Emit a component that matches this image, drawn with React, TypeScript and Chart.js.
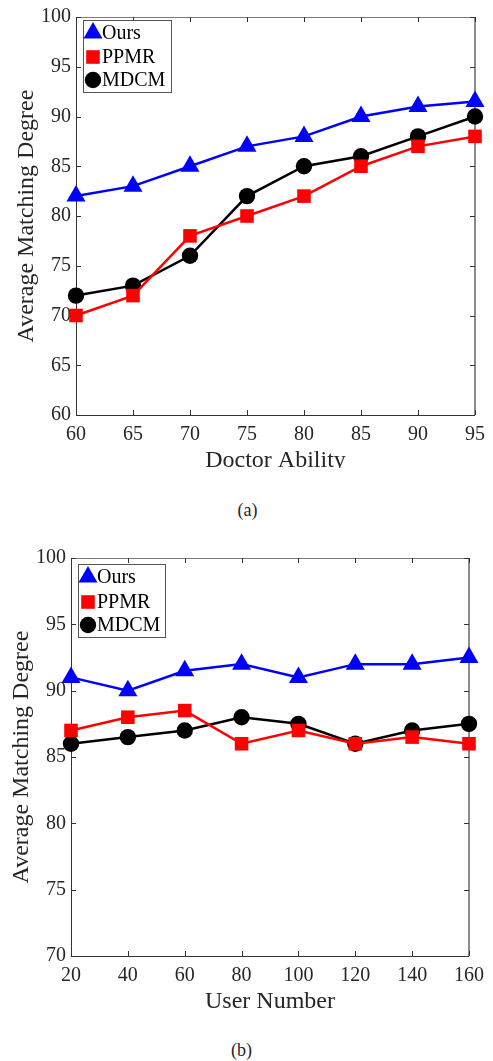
import React, { useEffect, useRef } from "react";
import { Chart, registerables } from "chart.js";

Chart.register(...registerables);

const seriesNames = ["Ours", "PPMR", "MDCM"];

const abilityX = [60, 65, 70, 75, 80, 85, 90, 95];
const abilityOurs = [82, 83, 85, 87, 88, 90, 91, 91.5];
const abilityPPMR = [70, 72, 78, 80, 82, 85, 87, 88];
const abilityMDCM = [72, 73, 76, 82, 85, 86, 88, 90];

const userX = [20, 40, 60, 80, 100, 120, 140, 160];
const userOurs = [91, 90, 91.5, 92, 91, 92, 92, 92.5];
const userPPMR = [87, 88, 88.5, 86, 87, 86, 86.5, 86];
const userMDCM = [86, 86.5, 87, 88, 87.5, 86, 87, 87.5];

const FONT = "'Liberation Serif', 'DejaVu Serif', serif";
const TEXT = "#262626";

type Cfg = {
  width: number;
  height: number;
  area: { left: number; right: number; top: number; bottom: number };
  xs: number[];
  series: number[][];
  xMin: number;
  xMax: number;
  xStep: number;
  yMin: number;
  yMax: number;
  yStep: number;
  xTitle: string;
  xTitleBaseline: number;
  yTitleBaseline: number;
  legend: { left: number; top: number; w: number; h: number; rows: number[]; mx: number; tx: number };
};

const styles = [
  { color: "#0000ff", pointStyle: "triangle", radius: 11 },
  { color: "#ff0000", pointStyle: "rect", radius: 9.6 },
  { color: "#000000", pointStyle: "circle", radius: 8.2 },
];

function drawMarker(ctx: CanvasRenderingContext2D, style: string, x: number, y: number, r: number, color: string) {
  ctx.save();
  ctx.fillStyle = color;
  ctx.beginPath();
  if (style === "triangle") {
    for (let i = 0; i < 3; i++) {
      const a = (i * 2 * Math.PI) / 3;
      const px = x + Math.sin(a) * r;
      const py = y - Math.cos(a) * r;
      if (i === 0) ctx.moveTo(px, py);
      else ctx.lineTo(px, py);
    }
    ctx.closePath();
  } else if (style === "rect") {
    const s = r * Math.SQRT1_2;
    ctx.rect(x - s, y - s, 2 * s, 2 * s);
  } else {
    ctx.arc(x, y, r, 0, Math.PI * 2);
  }
  ctx.fill();
  ctx.restore();
}

function LineChart({ cfg }: { cfg: Cfg }) {
  const ref = useRef<HTMLCanvasElement | null>(null);
  useEffect(() => {
    if (!ref.current) return;
    const a = cfg.area;
    const framePlugin = {
      id: "frame",
      beforeDatasetsDraw(chart: any) {
        const ctx = chart.ctx as CanvasRenderingContext2D;
        const { left, right, top, bottom } = chart.chartArea;
        const xs = chart.scales.x;
        const ys = chart.scales.y;
        ctx.save();
        ctx.strokeStyle = "#7a7a7a";
        ctx.lineWidth = 1;
        ctx.beginPath();
        ctx.moveTo(left, top + 0.5);
        ctx.lineTo(right, top + 0.5);
        ctx.stroke();
        ctx.strokeStyle = "#8c8c8c";
        ctx.lineWidth = 2;
        ctx.beginPath();
        ctx.moveTo(right, top);
        ctx.lineTo(right, bottom);
        ctx.stroke();
        ctx.strokeStyle = "#333333";
        ctx.lineWidth = 1;
        ctx.beginPath();
        ctx.moveTo(left + 0.5, top);
        ctx.lineTo(left + 0.5, bottom);
        ctx.moveTo(left, bottom + 0.5);
        ctx.lineTo(right, bottom + 0.5);
        ctx.stroke();
        ctx.strokeStyle = "#333333";
        ctx.beginPath();
        xs.ticks.forEach((t: any) => {
          const px = Math.round(xs.getPixelForValue(t.value)) + 0.5;
          ctx.moveTo(px, bottom);
          ctx.lineTo(px, bottom - 5);
          ctx.moveTo(px, top);
          ctx.lineTo(px, top + 5);
        });
        ys.ticks.forEach((t: any) => {
          const py = Math.round(ys.getPixelForValue(t.value)) + 0.5;
          ctx.moveTo(left, py);
          ctx.lineTo(left + 5, py);
          ctx.moveTo(right, py);
          ctx.lineTo(right - 5, py);
        });
        ctx.stroke();
        ctx.fillStyle = TEXT;
        ctx.font = `24px ${FONT}`;
        ctx.textAlign = "center";
        ctx.textBaseline = "alphabetic";
        ctx.fillText(cfg.xTitle, (left + right) / 2, cfg.xTitleBaseline);
        ctx.translate(cfg.yTitleBaseline, (top + bottom) / 2);
        ctx.rotate(-Math.PI / 2);
        ctx.fillText("Average Matching Degree", 0, 0);
        ctx.restore();
      },
      afterDraw(chart: any) {
        const ctx = chart.ctx as CanvasRenderingContext2D;
        const L = cfg.legend;
        ctx.save();
        ctx.fillStyle = "#ffffff";
        ctx.fillRect(L.left, L.top, L.w, L.h);
        ctx.strokeStyle = "#555555";
        ctx.lineWidth = 1;
        ctx.strokeRect(L.left + 0.5, L.top + 0.5, L.w, L.h);
        ctx.font = `20px ${FONT}`;
        ctx.textAlign = "left";
        ctx.textBaseline = "middle";
        seriesNames.forEach((name, i) => {
          const s = styles[i];
          drawMarker(ctx, s.pointStyle, L.mx, L.rows[i], s.radius, s.color);
          ctx.fillStyle = "#000000";
          ctx.fillText(name, L.tx, L.rows[i] + 1);
        });
        ctx.restore();
      },
    };

    const chart = new Chart(ref.current, {
      type: "line",
      data: {
        datasets: cfg.series.map((vals, i) => ({
          label: seriesNames[i],
          data: vals.map((v, j) => ({ x: cfg.xs[j], y: v })),
          borderColor: styles[i].color,
          backgroundColor: styles[i].color,
          borderWidth: 2.5,
          pointStyle: styles[i].pointStyle as any,
          pointRadius: styles[i].radius,
          pointBorderWidth: 0,
          pointBackgroundColor: styles[i].color,
          tension: 0,
          clip: false as any,
        })),
      },
      options: {
        animation: false,
        responsive: false,
        devicePixelRatio: 1,
        layout: { padding: { left: 0, top: a.top, right: cfg.width - a.right, bottom: 0 } },
        plugins: { legend: { display: false }, tooltip: { enabled: false } },
        scales: {
          x: {
            type: "linear",
            min: cfg.xMin,
            max: cfg.xMax,
            grid: { display: false, drawTicks: false },
            border: { display: false },
            ticks: {
              stepSize: cfg.xStep,
              autoSkip: false,
              maxRotation: 0,
              padding: 8,
              color: TEXT,
              font: { family: FONT, size: 20 },
            },
            afterFit: (s: any) => {
              s.height = cfg.height - a.bottom;
            },
          },
          y: {
            type: "linear",
            min: cfg.yMin,
            max: cfg.yMax,
            grid: { display: false, drawTicks: false },
            border: { display: false },
            ticks: {
              stepSize: cfg.yStep,
              autoSkip: false,
              padding: 5,
              color: TEXT,
              font: { family: FONT, size: 20 },
            },
            afterFit: (s: any) => {
              s.width = a.left;
            },
          },
        },
      },
      plugins: [framePlugin],
    });
    return () => chart.destroy();
  }, [cfg]);
  return <canvas ref={ref} width={cfg.width} height={cfg.height} style={{ display: "block", width: cfg.width, height: cfg.height }} />;
}

const cfgA: Cfg = {
  width: 493,
  height: 468,
  area: { left: 76, right: 479, top: 13, bottom: 415 },
  xs: abilityX,
  series: [abilityOurs, abilityPPMR, abilityMDCM],
  xMin: 60,
  xMax: 95,
  xStep: 5,
  yMin: 60,
  yMax: 100,
  yStep: 5,
  xTitle: "Doctor Ability",
  xTitleBaseline: 467,
  yTitleBaseline: 33,
  legend: { left: 83, top: 20, w: 88, h: 72, rows: [33, 57, 80], mx: 93, tx: 102 },
};

const cfgB: Cfg = {
  width: 493,
  height: 500,
  area: { left: 71, right: 469, top: 38, bottom: 436 },
  xs: userX,
  series: [userOurs, userPPMR, userMDCM],
  xMin: 20,
  xMax: 160,
  xStep: 20,
  yMin: 70,
  yMax: 100,
  yStep: 5,
  xTitle: "User Number",
  xTitleBaseline: 488,
  yTitleBaseline: 28,
  legend: { left: 78, top: 44, w: 87, h: 73, rows: [57, 82, 105], mx: 88, tx: 97 },
};

export default function App() {
  return (
    <div style={{ position: "absolute", left: 0, top: 0, width: 493, height: 1061, background: "#fff", overflow: "hidden" }}>
      <div style={{ position: "absolute", left: 0, top: 0 }}>
        <LineChart cfg={cfgA} />
      </div>
      <div
        style={{
          position: "absolute",
          left: 0,
          width: 493,
          top: 499,
          textAlign: "center",
          fontFamily: FONT,
          fontSize: 18,
          lineHeight: "22px",
          color: TEXT,
          paddingLeft: 1,
        }}
      >
        (a)
      </div>
      <div style={{ position: "absolute", left: 0, top: 520 }}>
        <LineChart cfg={cfgB} />
      </div>
      <div
        style={{
          position: "absolute",
          left: 0,
          width: 483,
          top: 1039,
          textAlign: "center",
          fontFamily: FONT,
          fontSize: 18,
          lineHeight: "22px",
          color: TEXT,
        }}
      >
        (b)
      </div>
    </div>
  );
}
